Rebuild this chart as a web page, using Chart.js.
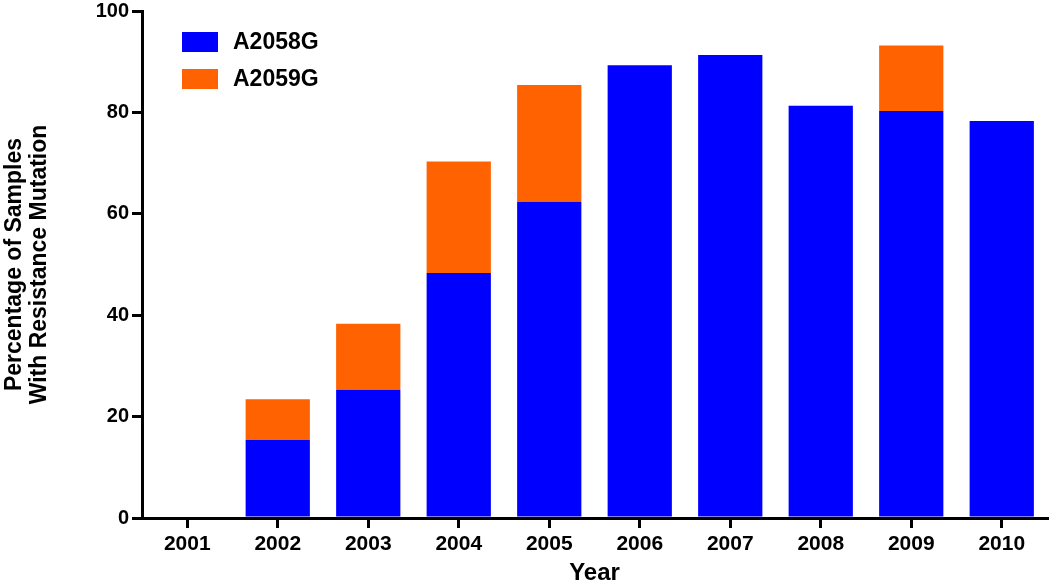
<!DOCTYPE html>
<html>
<head>
<meta charset="utf-8">
<script src="https://cdn.jsdelivr.net/npm/chart.js@4.4.1/dist/chart.umd.min.js"></script>
<style>
  html, body { margin: 0; padding: 0; background: #fff; }
  #wrap { width: 1050px; height: 585px; }
</style>
</head>
<body>
<div id="wrap"><canvas id="chart" width="1050" height="585"></canvas></div>
<script>
// ── Data ──────────────────────────────────────────────────────
const years  = ['2001', '2002', '2003', '2004', '2005', '2006', '2007', '2008', '2009', '2010'];
const a2058g = [0, 15.4, 25.3, 48.3, 62.4, 89.3, 91.3, 81.3, 80.3, 78.3];
const a2059g = [0, 8.0, 13.0, 22.0, 23.0, 0, 0, 0, 12.9, 0];
const yTicks = [0, 20, 40, 60, 80, 100];

const FONT = "'Liberation Sans', Arial, Helvetica, sans-serif";
const BLUE = '#0000FF';
const ORANGE = '#FF6200';

// legend drawn inside the plot, top-left like the original
const insideLegend = {
  id: 'insideLegend',
  afterDraw(chart) {
    const { ctx } = chart;
    ctx.save();
    ctx.font = `bold 23px ${FONT}`;
    ctx.textBaseline = 'middle';
    ctx.textAlign = 'left';
    chart.data.datasets.forEach((ds, i) => {
      const y = 32 + i * 37;
      ctx.fillStyle = ds.backgroundColor;
      ctx.fillRect(182, y, 36, 20);
      ctx.fillStyle = '#000';
      ctx.fillText(ds.label, 233, y + 11);
    });
    ctx.restore();
  }
};

const axisLine = { display: true, color: '#000', width: 3 };
const tickGrid = {
  display: true, drawOnChartArea: false, drawTicks: true,
  tickLength: 10, tickWidth: 3, tickColor: '#000', color: '#000', lineWidth: 3,
};

new Chart(document.getElementById('chart'), {
  type: 'bar',
  data: {
    labels: years,
    datasets: [
      { label: 'A2058G', data: a2058g, backgroundColor: BLUE, borderWidth: 0 },
      { label: 'A2059G', data: a2059g, backgroundColor: ORANGE, borderWidth: 0 },
    ],
  },
  options: {
    responsive: false,
    animation: false,
    categoryPercentage: 1,
    barPercentage: 0.71,
    layout: { padding: { left: 0, right: 3, top: 8, bottom: 0 } },
    plugins: { legend: { display: false }, tooltip: { enabled: false } },
    scales: {
      x: {
        stacked: true,
        grid: { ...tickGrid, offset: false },
        border: axisLine,
        ticks: { color: '#000', padding: 4, font: { family: FONT, size: 21, weight: 'bold' } },
        title: {
          display: true, text: 'Year', color: '#000',
          padding: { top: 0, bottom: 0 },
          font: { family: FONT, size: 24, weight: 'bold', lineHeight: 1 },
        },
        afterFit(scale) { scale.height = 67; },
      },
      y: {
        stacked: true,
        min: 0, max: 100,
        afterBuildTicks(scale) { scale.ticks = yTicks.map(v => ({ value: v })); },
        grid: tickGrid,
        border: axisLine,
        ticks: { color: '#000', padding: 3, font: { family: FONT, size: 20, weight: 'bold', lineHeight: 0.8 } },
        title: {
          display: true, text: ['Percentage of Samples', 'With Resistance Mutation'], color: '#000',
          padding: { top: 3, bottom: 0 },
          font: { family: FONT, size: 23, weight: 'bold', lineHeight: 1.05 },
        },
        afterFit(scale) { scale.width = 142; },
      },
    },
  },
  plugins: [insideLegend],
});
</script>
</body>
</html>
